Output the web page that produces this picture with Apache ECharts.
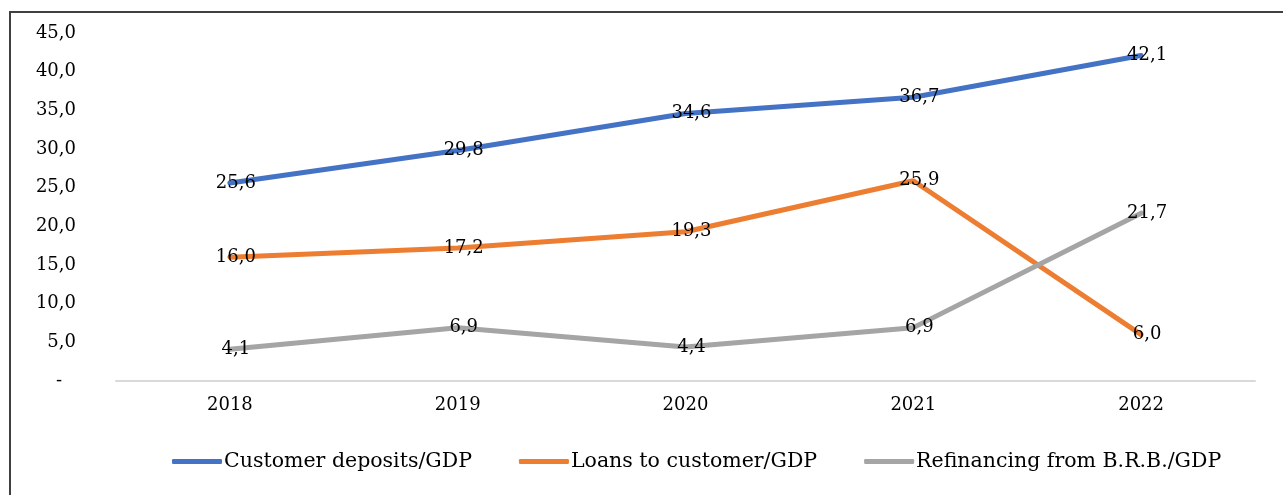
<!DOCTYPE html>
<html><head><meta charset="utf-8">
<script src="https://cdn.jsdelivr.net/npm/echarts@6/dist/echarts.min.js"></script>
<style>html,body{margin:0;padding:0;background:#fff}#c{width:1283px;height:495px}</style>
</head><body><div id="c"></div>
<script>
const categories = ['2018','2019','2020','2021','2022'];
const deposits = [25.6, 29.8, 34.6, 36.7, 42.1];
const loans = [16.0, 17.2, 19.3, 25.9, 6.0];
const refinancing = [4.1, 6.9, 4.4, 6.9, 21.7];
const seriesNames = ['Customer deposits/GDP', 'Loans to customer/GDP', 'Refinancing from B.R.B./GDP'];
const colors = ['#4472C4', '#ED7D31', '#A5A5A5'];

const FONT = '"DejaVu Serif", "Liberation Serif", serif';
const fmt = v => v === 0 ? '-' : v.toFixed(1).replace('.', ',');

const chart = echarts.init(document.getElementById('c'), null, {renderer: 'canvas'});
const mk = (name, data, color) => ({
  name, type: 'line', data,
  symbol: 'circle', symbolSize: 1, showSymbol: true,
  lineStyle: {color, width: 5, cap: 'round'},
  itemStyle: {color},
  label: {show: true, position: 'inside', offset: [6, 0], formatter: p => fmt(p.value),
          color: '#000', fontFamily: FONT, fontSize: 18}
});
chart.setOption({
  animation: false,
  backgroundColor: '#fff',
  textStyle: {fontFamily: FONT},
  graphic: [{type: 'rect', shape: {x: 10, y: 12, width: 1290, height: 500},
             style: {fill: 'none', stroke: '#404040', lineWidth: 2}, silent: true, z: 100}],
  grid: {left: 116, right: 28, top: 33, bottom: 114},
  xAxis: {type: 'category', data: categories, boundaryGap: true,
    axisLine: {lineStyle: {color: '#D9D9D9', width: 2}},
    axisTick: {show: false},
    axisLabel: {color: '#000', fontFamily: FONT, fontSize: 18, margin: 15}},
  yAxis: {type: 'value', min: 0, max: 45, interval: 5,
    axisLine: {show: false}, axisTick: {show: false}, splitLine: {show: false},
    axisLabel: {color: '#000', fontFamily: FONT, fontSize: 18, margin: 40,
      formatter: v => v === 0 ? '{z|-}' : fmt(v),
      rich: {z: {padding: [0, 14, 0, 0], fontFamily: FONT, fontSize: 18, color: '#000'}}}},
  legend: {bottom: 18, left: 167, itemGap: 47, itemWidth: 50, itemHeight: 5,
    icon: 'roundRect',
    textStyle: {color: '#000', fontFamily: FONT, fontSize: 20.5, padding: [0,0,0,-3]},
    data: seriesNames},
  series: [mk(seriesNames[0], deposits, colors[0]), mk(seriesNames[1], loans, colors[1]), mk(seriesNames[2], refinancing, colors[2])]
});
</script></body></html>
